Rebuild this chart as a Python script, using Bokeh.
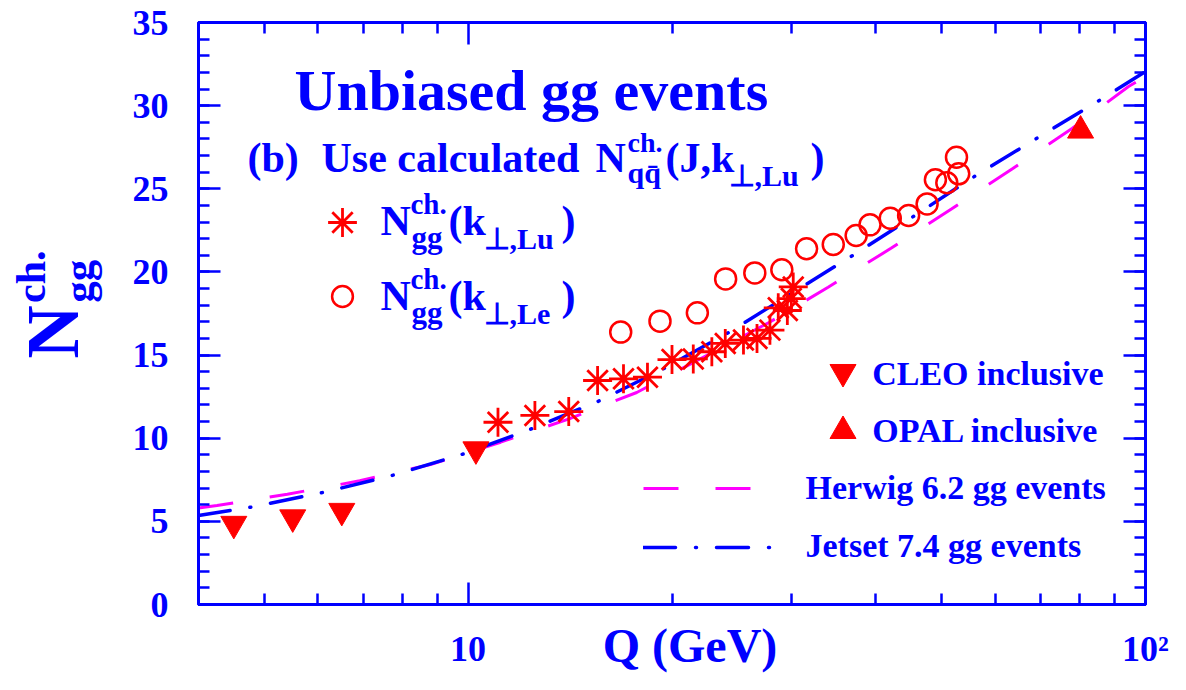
import math
from bokeh.plotting import figure
from bokeh.models import (Range1d, LinearAxis, LogAxis, FixedTicker, SingleIntervalTicker,
                          Label, Legend, LegendItem, CustomJSTickFormatter)
from bokeh.embed import file_html
from bokeh.resources import INLINE

# ---------------- data ----------------
cleo_q = [4.51, 5.51, 6.51, 10.27]
cleo_n = [4.85, 5.24, 5.63, 9.33]

opal_q = [80.2]
opal_n = [28.5]

lu_q = [11.07, 12.55, 14.08, 15.53, 16.96, 18.4, 20.0, 21.5, 22.9, 23.97, 25.5, 26.7,
        27.9, 28.7, 29.6, 30.0, 30.2]
lu_n = [10.96, 11.37, 11.60, 13.47, 13.57, 13.67, 14.73, 14.77, 15.2, 15.7, 15.9, 16.0,
        16.5, 17.84, 17.68, 18.4, 19.1]

le_q = [16.8, 19.2, 21.8, 24.0, 26.5, 29.05, 31.6, 34.6, 37.4, 39.2, 42.0, 44.7, 47.6,
        48.96, 50.9, 53.0, 52.6]
le_n = [16.38, 17.04, 17.54, 19.58, 19.94, 20.13, 21.39, 21.65, 22.19, 22.83, 23.23, 23.39,
        24.09, 25.54, 25.36, 25.9, 26.9]

herwig_q = [4.0, 4.26, 5.41, 6.92, 8.80, 11.17, 14.13, 17.74, 27.9, 34.0, 42.1, 51.7, 63.7,
            78.0, 94.4, 100.0]
herwig_n = [5.81, 5.95, 6.63, 7.44, 8.42, 9.76, 11.18, 12.75, 16.99, 19.08, 21.42, 23.79,
            26.22, 28.64, 31.15, 31.75]

jetset_q = [4.0, 4.81, 6.13, 7.79, 9.89, 12.47, 15.67, 19.5, 24.3, 36.96, 45.5, 55.9, 69.0,
            85.3, 100.0]
jetset_n = [5.35, 5.87, 6.75, 7.80, 9.08, 10.60, 12.27, 14.21, 16.38, 20.99, 23.35, 25.74,
            28.02, 30.29, 32.05]

x_major_ticks = [10, 100]
x_minor_ticks = [5, 6, 7, 8, 9, 20, 30, 40, 50, 60, 70, 80, 90]
x_tick_labels = {10: "10", 100: "10\u00b2"}

# ---------------- style ----------------
BLUE = "#0000ff"
RED = "#ff0000"
MAGENTA = "#ff00ff"
FONT = "Liberation Serif"
NB = "\u00a0"

W, H = 1170, 674
FL, FB = 198, 604   # frame left / bottom (pixels) used for text placement

p = figure(width=W, height=H, x_axis_type="log", x_range=Range1d(4, 100),
           y_range=Range1d(0, 35), output_backend="svg", toolbar_location=None,
           min_border_left=198, min_border_right=25, min_border_top=22,
           min_border_bottom=70, background_fill_color="white",
           border_fill_color="white")
p.xgrid.visible = False
p.ygrid.visible = False
p.outline_line_color = BLUE
p.outline_line_width = 3


def style_axis(ax, size="36px", standoff=25):
    ax.axis_line_color = BLUE
    ax.axis_line_width = 3
    ax.major_tick_line_color = BLUE
    ax.major_tick_line_width = 2.5
    ax.minor_tick_line_color = BLUE
    ax.minor_tick_line_width = 2.5
    ax.major_tick_in = 22
    ax.major_tick_out = 0
    ax.minor_tick_in = 11
    ax.minor_tick_out = 0
    ax.major_label_text_font = FONT
    ax.major_label_text_font_style = "bold"
    ax.major_label_text_font_size = size
    ax.major_label_text_color = BLUE
    ax.major_label_standoff = standoff


def style_title(ax, text, size, standoff):
    ax.axis_label = text
    ax.axis_label_text_font = FONT
    ax.axis_label_text_font_style = "bold"
    ax.axis_label_text_font_size = f"{size}px"
    ax.axis_label_text_color = BLUE
    ax.axis_label_standoff = standoff


xt = FixedTicker(ticks=x_major_ticks, minor_ticks=x_minor_ticks)
yt = SingleIntervalTicker(interval=5, num_minor_ticks=5)
blank = CustomJSTickFormatter(code="return ''")

xa = p.xaxis[0]
xa.ticker = xt
xa.major_label_overrides = x_tick_labels
style_axis(xa, standoff=24)
style_title(xa, NB * 3 + "Q (GeV)", 48, -53)

ya = p.yaxis[0]
ya.ticker = yt
style_axis(ya, standoff=30)
style_title(ya, NB * 6 + "gg", 43, 28)


def title_axis(text, size, standoff):
    ax = LinearAxis(ticker=FixedTicker(ticks=[]), formatter=blank)
    ax.axis_line_color = None
    ax.major_tick_line_color = None
    ax.minor_tick_line_color = None
    ax.major_tick_in = 0
    ax.major_tick_out = 0
    ax.minor_tick_in = 0
    ax.minor_tick_out = 0
    ax.major_label_standoff = 0
    ax.major_label_text_font_size = "0px"
    style_title(ax, text, size, standoff)
    p.add_layout(ax, "left")


title_axis("N" + NB * 2, 74, -42)
title_axis(NB * 7 + "ch.", 42, -45)

top = LogAxis(ticker=xt, formatter=blank)
style_axis(top, size="0px", standoff=0)
p.add_layout(top, "above")
right = LinearAxis(ticker=yt, formatter=blank)
style_axis(right, size="0px", standoff=0)
p.add_layout(right, "right")

# ---------------- data renderers ----------------
r_herwig = p.line(herwig_q, herwig_n, line_color=MAGENTA, line_width=3, line_dash="35 37")
r_jetset = p.line(jetset_q, jetset_n, line_color=BLUE, line_width=3.5,
                  line_dash="32 20 1 20", line_cap="round")
r_lu = p.scatter(lu_q, lu_n, marker="asterisk", size=29, line_color=RED, line_width=2.8)
r_le = p.scatter(le_q, le_n, marker="circle", size=21, line_color=RED, line_width=2.5,
                 fill_color=None)
r_cleo = p.scatter(cleo_q, cleo_n, marker="inverted_triangle", size=26, color=RED)
r_opal = p.scatter(opal_q, opal_n, marker="triangle", size=26, color=RED)


# ---------------- legend symbols (Bokeh legends, one per symbol) ----------------
def symbol(renderer, left, bottom, gw, gh):
    leg = Legend(items=[LegendItem(label=" ", renderers=[renderer])],
                 location=(int(round(left)), int(round(bottom))),
                 glyph_width=int(gw), glyph_height=int(gh),
                 padding=0, spacing=0, margin=0, label_standoff=0, label_width=0,
                 label_height=0, label_text_font_size="1px",
                 border_line_color=None, background_fill_alpha=0)
    p.add_layout(leg)


def marker_symbol(renderer, cx, cy, size):
    box = int(round(size / 0.4))
    symbol(renderer, cx - FL - box / 2, FB - cy - box / 2, box, box)


marker_symbol(r_lu, 342, 222, 29)
marker_symbol(r_le, 342, 296, 21)
marker_symbol(r_cleo, 842.5, 372, 26)
marker_symbol(r_opal, 842.5, 430.5, 26)
symbol(r_herwig, 643.3 - FL, FB - 487.7 - 5, 110, 10)
symbol(r_jetset, 643.3 - FL, FB - 546.7 - 5, 132, 10)


# ---------------- texts inside the frame ----------------
SHIFT = 0.34   # compensates the baseline placement seen in the rendered picture


def txt(s, px, py, size):
    p.add_layout(Label(x=px - FL, y=FB - py + SHIFT * size, x_units="screen",
                       y_units="screen", text=s, text_font=FONT, text_font_style="bold",
                       text_font_size=f"{size}px", text_color=BLUE, text_align="left",
                       text_baseline="alphabetic"))


txt("Unbiased gg events", 294, 110, 58)

txt("(b)", 247, 171.7, 42)
txt("Use calculated", 321, 171.7, 42)
txt("N", 595, 171.7, 42)
txt("ch.", 627, 151.7, 28)
txt("qq\u0304", 627, 182.5, 30)
txt("(J,k", 665, 171.7, 42)
txt("\u22a5,Lu", 728, 185, 30)
txt(")", 810, 171.7, 42)

for base, tag in ((235, "Lu"), (310, "Le")):
    txt("N", 380, base, 42)
    txt("ch.", 410, base - 22, 29)
    txt("gg", 411, base + 13, 31)
    txt("(k", 448, base, 42)
    txt("\u22a5," + tag, 483, base + 13, 30)
    txt(")", 561, base, 42)

txt("CLEO inclusive", 871.7, 384.3, 34)
txt("OPAL inclusive", 871.7, 441.7, 34)
txt("Herwig 6.2 gg events", 805, 498.3, 34)
txt("Jetset 7.4 gg events", 805, 556.7, 34)

open("out.html", "w").write(file_html(p, INLINE))
